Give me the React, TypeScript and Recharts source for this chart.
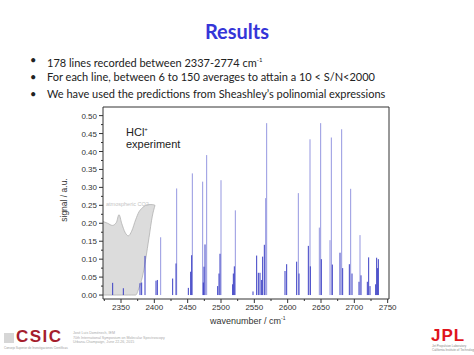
import { ComposedChart, Line, Area, XAxis, YAxis, ReferenceLine } from "recharts";

// HCl+ line positions (cm-1) and peak signal (a.u.)
const peakPos = [
  2337.5, 2353.5, 2378.5, 2381, 2386, 2402.5, 2404.5, 2409.5, 2427.5, 2432.5, 2433.5,
  2451, 2454.5, 2456, 2457, 2472.5, 2473.5, 2474.5, 2476, 2478.5, 2495, 2497, 2498.5, 2500,
  2517.5, 2518.5, 2520, 2521.5, 2548, 2553.5, 2556, 2558.5, 2561, 2562.5, 2565, 2567, 2568.5,
  2596, 2598.5, 2613.5, 2616, 2617, 2631, 2633.5, 2634, 2647.5, 2649.5, 2650.5, 2663.5,
  2665.5, 2667, 2678.5, 2681, 2682.5, 2692.5, 2694.5, 2696.5, 2707, 2708.5, 2710, 2719.5,
  2721.5, 2723.5, 2732, 2733.5, 2735, 2736,
];
const peakSig = [
  0.034, 0.019, 0.033, 0.035, 0.109, 0.04, 0.042, 0.161, 0.046, 0.088, 0.297,
  0.02, 0.065, 0.111, 0.339, 0.316, 0.035, 0.079, 0.141, 0.39, 0.025, 0.06, 0.115, 0.32,
  0.03, 0.06, 0.08, 0.236, 0.01, 0.11, 0.062, 0.062, 0.042, 0.107, 0.14, 0.27, 0.479,
  0.067, 0.086, 0.093, 0.284, 0.06, 0.137, 0.434, 0.08, 0.188, 0.479, 0.1, 0.153,
  0.439, 0.085, 0.118, 0.462, 0.075, 0.086, 0.296, 0.06, 0.037, 0.167, 0.055, 0.037,
  0.105, 0.025, 0.03, 0.104, 0.075, 0.1,
];

// atmospheric CO2 envelope (lower / upper edge)
const co2Pos = [2323, 2330, 2337, 2343, 2347, 2351, 2356, 2361, 2366, 2372, 2377, 2382, 2387, 2392, 2397, 2401];
const co2Low = [0, 0, 0, 0, 0, 0, 0, 0, 0, 0, 0.02, 0.05, 0.1, 0.16, 0.22, 0.25];
const co2High = [0.205, 0.2, 0.194, 0.202, 0.224, 0.2, 0.175, 0.165, 0.178, 0.21, 0.232, 0.243, 0.25, 0.252, 0.252, 0.25];

const xTicks = [2325, 2350, 2375, 2400, 2425, 2450, 2475, 2500, 2525, 2550, 2575, 2600, 2625, 2650, 2675, 2700, 2725, 2750];
const yTicks = [0, 0.025, 0.05, 0.075, 0.1, 0.125, 0.15, 0.175, 0.2, 0.225, 0.25, 0.275, 0.3, 0.325, 0.35, 0.375, 0.4, 0.425, 0.45, 0.475, 0.5];

const X_MIN = 2323;
const X_MAX = 2752;
const Y_MIN = -0.011;
const Y_MAX = 0.524;

const co2Data = co2Pos.map((w, i) => ({ w, r: [co2Low[i], co2High[i]] }));

function spikes(min: number, max: number) {
  const out: { w: number; s: number | null }[] = [];
  peakPos.forEach((w, i) => {
    const s = peakSig[i];
    if (s >= min && s < max) out.push({ w, s: 0 }, { w, s }, { w, s: null });
  });
  return out;
}

const AXIS = "#333";
const TICK_FONT = "'Liberation Sans', Arial, sans-serif";

const XTick = (props: any) => {
  const { x, y, payload } = props;
  const v = payload.value;
  const major = v % 50 === 0;
  return (
    <g>
      <line x1={x} x2={x} y1={y - 4} y2={y - 4 + (major ? 4 : 2)} stroke={AXIS} />
      {major && (
        <text x={x} y={y + 7} textAnchor="middle" fontSize={8} fill="#333" fontFamily={TICK_FONT}>
          {v}
        </text>
      )}
    </g>
  );
};

const YTick = (props: any) => {
  const { x, y, payload } = props;
  const v = payload.value;
  const major = Math.round(v * 1000) % 50 === 0;
  return (
    <g>
      <line x1={x + 4 - (major ? 4 : 2)} x2={x + 4} y1={y} y2={y} stroke={AXIS} />
      {major && (
        <text x={x - 2} y={y + 3} textAnchor="end" fontSize={8} fill="#333" fontFamily={TICK_FONT}>
          {v.toFixed(2)}
        </text>
      )}
    </g>
  );
};

const abs = (left: number, top: number, extra: any = {}) => ({
  position: "absolute" as const,
  left,
  top,
  whiteSpace: "nowrap" as const,
  ...extra,
});

export default function App() {
  const bullet = { fontFamily: "Lato, 'Open Sans', sans-serif", fontSize: 11, color: "#222", lineHeight: "14px" };
  return (
    <div style={{ position: "absolute", left: 0, top: 0, width: 474, height: 355, background: "#fff", overflow: "hidden" }}>
      <div style={abs(0, 19, { width: 474, textAlign: "center", fontFamily: "Lato, sans-serif", fontWeight: 700, fontSize: 20, color: "#3535d8" })}>
        Results
      </div>

      <div style={abs(30, 53, bullet)}>•</div>
      <div style={abs(47, 53, bullet)}>
        178 lines recorded between 2337-2774 cm<sup style={{ fontSize: 6 }}>-1</sup>
      </div>
      <div style={abs(30, 70, bullet)}>•</div>
      <div style={abs(47, 70, bullet)}>For each line, between 6 to 150 averages to attain a 10 &lt; S/N&lt;2000</div>
      <div style={abs(30, 87, bullet)}>•</div>
      <div style={abs(47, 87, bullet)}>We have used the predictions from Sheashley’s polinomial expressions</div>

      <div style={abs(0, 0)}>
        <ComposedChart width={474} height={355} data={co2Data} margin={{ top: 107, right: 85, bottom: 36, left: 58 }}>
          <XAxis
            dataKey="w"
            type="number"
            domain={[X_MIN, X_MAX]}
            ticks={xTicks}
            interval={0}
            tick={<XTick />}
            tickLine={false}
            tickSize={4}
            tickMargin={0}
            height={20}
            axisLine={{ stroke: AXIS }}
            allowDataOverflow
          />
          <YAxis
            type="number"
            domain={[Y_MIN, Y_MAX]}
            ticks={yTicks}
            interval={0}
            tick={<YTick />}
            tickLine={false}
            tickSize={4}
            tickMargin={0}
            width={45}
            axisLine={{ stroke: AXIS }}
            allowDataOverflow
          />
          <ReferenceLine y={Y_MAX} stroke={AXIS} />
          <ReferenceLine x={X_MAX} stroke={AXIS} />
          <Area
            dataKey="r"
            type="monotone"
            stroke="#b0b0b0"
            strokeWidth={0.8}
            fill="#d6d6d6"
            fillOpacity={0.85}
            isAnimationActive={false}
          />
          <Line
            data={spikes(0.15, 1)}
            dataKey="s"
            type="linear"
            stroke="#9597e0"
            strokeWidth={1}
            dot={false}
            activeDot={false}
            isAnimationActive={false}
          />
          <Line
            data={spikes(0, 0.15)}
            dataKey="s"
            type="linear"
            stroke="#3b3fc4"
            strokeWidth={1}
            dot={false}
            activeDot={false}
            isAnimationActive={false}
          />
        </ComposedChart>
      </div>

      <div style={abs(126, 123, { fontFamily: TICK_FONT, fontSize: 11, color: "#222", lineHeight: "12px" })}>
        HCl<sup style={{ fontSize: 6 }}>+</sup>
        <br />
        experiment
      </div>
      <div style={abs(106, 201, { fontFamily: TICK_FONT, fontSize: 5.5, color: "#c4c4c4" })}>atmospheric CO2</div>

      <div
        style={abs(64, 200, {
          fontFamily: TICK_FONT,
          fontSize: 8.5,
          color: "#333",
          transform: "translate(-50%, -50%) rotate(-90deg)",
        })}
      >
        signal / a.u.
      </div>
      <div style={abs(210, 315, { fontFamily: TICK_FONT, fontSize: 9, color: "#333" })}>
        wavenumber / cm<sup style={{ fontSize: 5 }}>-1</sup>
      </div>

      {/* footer logos */}
      <div style={abs(4, 333, { width: 10, height: 10, background: "#bbb", opacity: 0.6 })} />
      <div style={abs(16, 329, { fontFamily: "'Liberation Sans', Arial, sans-serif", fontWeight: 700, fontSize: 17, lineHeight: "16px", letterSpacing: 1.5, color: "#a51d2d" })}>
        CSIC
      </div>
      <div style={abs(4, 346, { fontFamily: TICK_FONT, fontSize: 3, color: "#999", lineHeight: "4px" })}>
        Consejo Superior de Investigaciones Científicas
      </div>
      <div style={abs(73, 331, { fontFamily: TICK_FONT, fontSize: 3.6, color: "#aaa", lineHeight: "4.5px" })}>
        José Luis Doménech, IEM
        <br />
        70th International Symposium on Molecular Spectroscopy
        <br />
        Urbana-Champaign, June 22-26, 2015
      </div>
      <div style={abs(431, 328, { fontFamily: "'Liberation Sans', Arial, sans-serif", fontWeight: 700, fontSize: 17, lineHeight: "15px", letterSpacing: 1, color: "#e0141c" })}>
        JPL
      </div>
      <div style={abs(432, 345, { fontFamily: TICK_FONT, fontSize: 3, color: "#888", lineHeight: "3.6px" })}>
        Jet Propulsion Laboratory
        <br />
        California Institute of Technology
      </div>
    </div>
  );
}
